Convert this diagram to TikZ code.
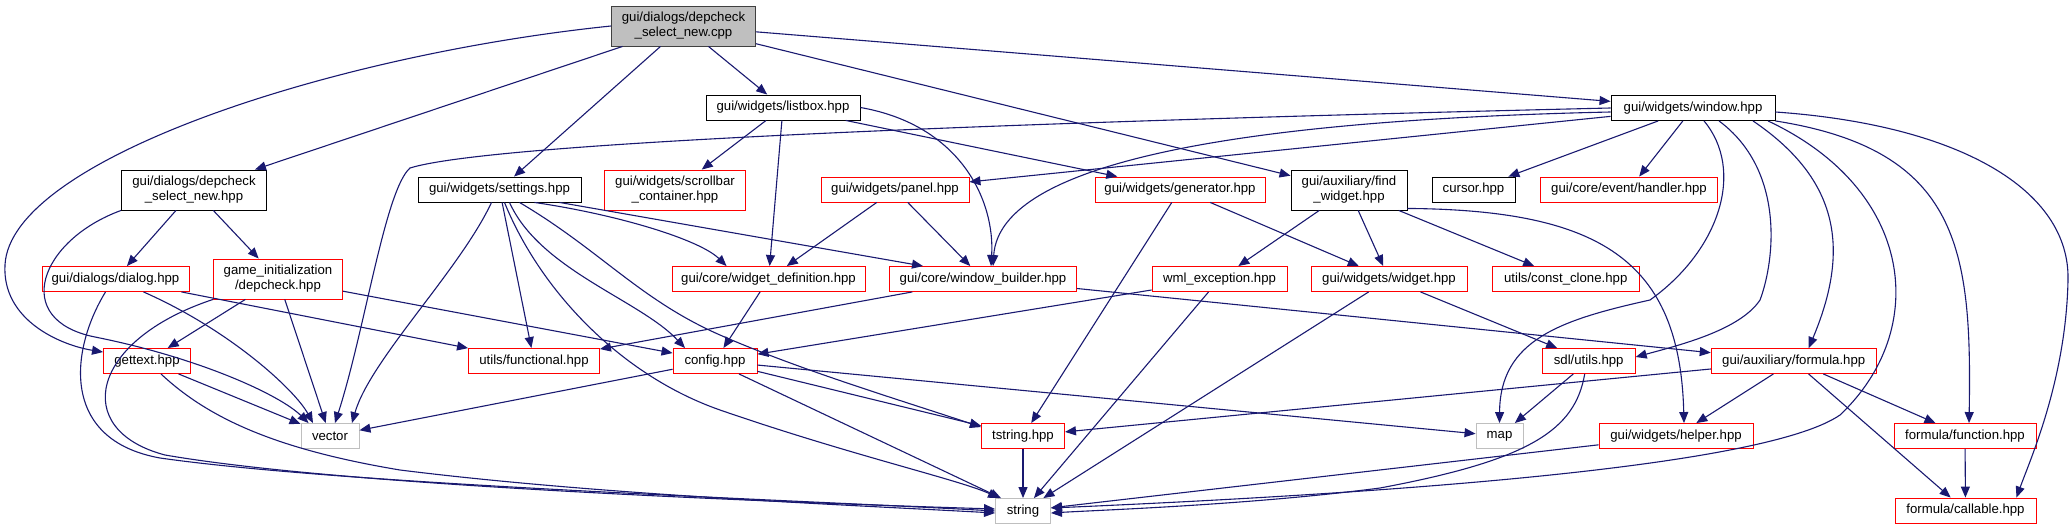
\documentclass[tikz,border=0pt]{standalone}
\usepackage{fontspec}
\setmainfont{Liberation Sans}
\usepackage{tikz}
\usetikzlibrary{arrows.meta}
\definecolor{edgeblue}{RGB}{25,25,112}
\definecolor{rootfill}{RGB}{191,191,191}
\definecolor{rootline}{RGB}{64,64,64}
\definecolor{truncred}{RGB}{255,0,0}
\definecolor{sysgray}{RGB}{191,191,191}
\tikzset{
  % Any file box
  filebox/.style={
    rectangle, draw=black, line width=0.9pt, fill=white,
    minimum height=25pt, inner sep=0pt, align=center,
    font=\fontsize{13.2}{15}\selectfont
  },
  % The file the graph is about
  rootbox/.style={
    filebox, fill=rootfill, draw=rootline, minimum height=40pt
  },
  % Two line box
  tallbox/.style={
    minimum height=40pt
  },
  % File with a truncated graph
  truncbox/.style={
    filebox, draw=truncred
  },
  % System header
  sysbox/.style={
    filebox, draw=sysgray
  },
  % Include arrow
  dep/.style={
    -{Triangle[length=11pt, width=9pt, fill=edgeblue]}, draw=edgeblue,
    line width=1.1pt
  },
}
\begin{document}
\begin{tikzpicture}[x=1pt, y=-1pt]
  \useasboundingbox (0,0) rectangle (2071,529);

  % row 0
  \node[rootbox, minimum width=144pt] (root) at (683.5,26) {gui/dialogs/depcheck\\\_select\_new.cpp};
  % row 1
  \node[filebox, minimum width=154pt] (listbox) at (783,107.5) {gui/widgets/listbox.hpp};
  \node[filebox, minimum width=164pt] (window) at (1693,108) {gui/widgets/window.hpp};
  % row 2
  \node[filebox, tallbox, minimum width=145pt] (dsnhpp) at (194,190) {gui/dialogs/depcheck\\\_select\_new.hpp};
  \node[filebox, minimum width=163pt] (settings) at (499.5,189.5) {gui/widgets/settings.hpp};
  \node[truncbox, tallbox, minimum width=141pt] (scrollbar) at (675,190) {gui/widgets/scrollbar\\\_container.hpp};
  \node[truncbox, minimum width=148pt] (panel) at (895,189.5) {gui/widgets/panel.hpp};
  \node[truncbox, minimum width=170pt] (generator) at (1180,189.5) {gui/widgets/generator.hpp};
  \node[filebox, tallbox, minimum width=116pt] (findwidget) at (1349,190) {gui/auxiliary/find\\\_widget.hpp};
  \node[filebox, minimum width=83pt] (cursor) at (1473.5,189.5) {cursor.hpp};
  \node[truncbox, minimum width=177pt] (handler) at (1629,189.5) {gui/core/event/handler.hpp};
  % row 3
  \node[truncbox, minimum width=147pt] (dialog) at (115.5,279) {gui/dialogs/dialog.hpp};
  \node[truncbox, tallbox, minimum width=129pt] (gameinit) at (278,279) {game\_initialization\\/depcheck.hpp};
  \node[truncbox, minimum width=193pt] (widgetdef) at (768.5,279) {gui/core/widget\_definition.hpp};
  \node[truncbox, minimum width=187pt] (winbuilder) at (983,279) {gui/core/window\_builder.hpp};
  \node[truncbox, minimum width=135pt] (wmlexc) at (1219.5,279) {wml\_exception.hpp};
  \node[truncbox, minimum width=156pt] (widget) at (1389,279) {gui/widgets/widget.hpp};
  \node[truncbox, minimum width=147pt] (constclone) at (1565.7,279) {utils/const\_clone.hpp};
  % row 4
  \node[truncbox, minimum width=87pt] (gettext) at (147,361) {gettext.hpp};
  \node[truncbox, minimum width=131pt] (functional) at (534,361) {utils/functional.hpp};
  \node[truncbox, minimum width=84pt] (config) at (715,361) {config.hpp};
  \node[truncbox, minimum width=93pt] (sdlutils) at (1588.7,361) {sdl/utils.hpp};
  \node[truncbox, minimum width=165pt] (formula) at (1793.7,361) {gui/auxiliary/formula.hpp};
  % row 5
  \node[sysbox, minimum width=58pt] (vector) at (330,436) {vector};
  \node[truncbox, minimum width=83pt] (tstring) at (1023,436) {tstring.hpp};
  \node[sysbox, minimum width=47pt] (map) at (1499.5,436) {map};
  \node[truncbox, minimum width=154pt] (helper) at (1676,436) {gui/widgets/helper.hpp};
  \node[truncbox, minimum width=142pt] (function) at (1965,436) {formula/function.hpp};
  % row 6
  \node[sysbox, minimum width=55pt] (string) at (1023,511) {string};
  \node[truncbox, minimum width=141pt] (callable) at (1965.5,510.5) {formula/callable.hpp};

  % from the cpp file
  \draw[dep] (root.west) .. controls (330,55) and (10,160) .. (5,265)
    .. controls (2,320) and (60,345) .. ([yshift=-4pt]gettext.north west);
  \draw[dep] (root) -- (dsnhpp);
  \draw[dep] (root) -- (settings);
  \draw[dep] (root) -- (listbox);
  \draw[dep] (root) -- (findwidget);
  \draw[dep] (root) -- (window);

  % depcheck_select_new.hpp
  \draw[dep] (dsnhpp) -- (dialog);
  \draw[dep] (dsnhpp) -- (gameinit);
  \draw[dep] (dsnhpp.south west) .. controls (40,240) and (10,320) .. (95,337)
    .. controls (200,358) and (280,395) .. ([xshift=8pt]vector.north west);

  % dialog.hpp
  \draw[dep] (dialog) -- (functional);
  \draw[dep] ([xshift=28pt]dialog.south) .. controls (230,330) and (295,390) .. ([xshift=-17pt]vector.north);
  \draw[dep] ([xshift=-10pt]dialog.south) .. controls (70,350) and (60,440) .. (160,458)
    .. controls (350,485) and (800,500) .. (string.west);

  % game_initialization/depcheck.hpp
  \draw[dep] (gameinit) -- (gettext);
  \draw[dep] (gameinit) -- (vector);
  \draw[dep] (gameinit) -- (config);
  \draw[dep] (gameinit.south west) .. controls (90,340) and (70,430) .. (165,455)
    .. controls (350,487) and (800,503) .. ([yshift=2pt]string.west);

  % gettext.hpp
  \draw[dep] (gettext) -- (vector);
  \draw[dep] ([xshift=14pt]gettext.south) .. controls (210,420) and (280,450) .. (400,470)
    .. controls (600,495) and (850,505) .. ([yshift=-2pt]string.west);

  % settings.hpp
  \draw[dep] ([xshift=-8pt]settings.south) .. controls (460,270) and (370,360) .. ([xshift=22pt]vector.north);
  \draw[dep] (settings) -- (functional);
  \draw[dep] ([xshift=5pt]settings.south) .. controls (540,290) and (620,375) .. (720,410)
    .. controls (850,455) and (960,480) .. ([xshift=4pt]string.north west);
  \draw[dep] ([xshift=10pt]settings.south) .. controls (540,270) and (640,300) .. ([xshift=-30pt]config.north);
  \draw[dep] ([xshift=20pt]settings.south) .. controls (600,250) and (640,300) .. (720,335)
    .. controls (800,370) and (900,400) .. ([yshift=-4pt]tstring.north west);
  \draw[dep] ([xshift=35pt]settings.south) .. controls (620,215) and (700,240) .. ([xshift=55pt]widgetdef.north west);
  \draw[dep] ([xshift=60pt]settings.south) -- ([xshift=-60pt]winbuilder.north);

  % listbox.hpp
  \draw[dep] (listbox) -- (scrollbar);
  \draw[dep] (listbox) -- (widgetdef);
  \draw[dep] (listbox.east) .. controls (960,125) and (995,200) .. ([xshift=8pt]winbuilder.north);
  \draw[dep] (listbox) -- (generator);

  % window.hpp
  \draw[dep] (window.west) .. controls (1100,120) and (500,140) .. (410,168)
    .. controls (385,190) and (365,330) .. ([xshift=5pt]vector.north);
  \draw[dep] (window) -- (panel);
  \draw[dep] ([yshift=-4pt]window.west) .. controls (1250,120) and (1000,160) .. ([xshift=10pt]winbuilder.north);
  \draw[dep] (window) -- (cursor);
  \draw[dep] (window) -- (handler);
  \draw[dep] ([xshift=11pt]window.south) .. controls (1745,170) and (1720,250) .. (1650,300)
    .. controls (1560,320) and (1500,340) .. (map.north);
  \draw[dep] ([xshift=26pt]window.south) .. controls (1785,170) and (1775,260) .. (1760,300)
    .. controls (1740,330) and (1680,345) .. ([yshift=4pt]sdlutils.east);
  \draw[dep] ([xshift=60pt]window.south) .. controls (1840,180) and (1850,250) .. ([xshift=15pt]formula.north);
  \draw[dep] ([xshift=75pt]window.south) .. controls (1915,190) and (1930,330) .. (1840,415)
    .. controls (1760,470) and (1350,495) .. ([yshift=3pt]string.east);
  \draw[dep] (window.south east) .. controls (1960,150) and (1972,250) .. ([xshift=4pt]function.north);
  \draw[dep] ([yshift=-4pt]window.east) .. controls (1960,125) and (2070,190) .. (2068,280)
    .. controls (2066,380) and (2030,460) .. ([xshift=-20pt]callable.north east);

  % find_widget.hpp
  \draw[dep] (findwidget) -- (wmlexc);
  \draw[dep] (findwidget) -- (widget);
  \draw[dep] (findwidget) -- (constclone);
  \draw[dep] ([yshift=2pt]findwidget.south east) .. controls (1600,210) and (1680,260) .. ([xshift=8pt]helper.north);

  % panel.hpp and generator.hpp
  \draw[dep] (panel) -- (widgetdef);
  \draw[dep] (panel) -- (winbuilder);
  \draw[dep] (generator) -- (tstring);
  \draw[dep] (generator) -- (widget);

  % row 3 files
  \draw[dep] (widgetdef) -- (config);
  \draw[dep] (winbuilder) -- (functional);
  \draw[dep] (winbuilder) -- (formula);
  \draw[dep] (wmlexc) -- (config);
  \draw[dep] (wmlexc) -- (string);
  \draw[dep] (widget) -- (string);
  \draw[dep] (widget) -- (sdlutils);

  % row 4 files
  \draw[dep] (config) -- (vector);
  \draw[dep] (config) -- (tstring);
  \draw[dep] ([xshift=24pt]config.south) -- ([xshift=-22pt]string.north);
  \draw[dep] (config) -- (map);
  \draw[dep] (sdlutils) -- (map);
  \draw[dep] ([xshift=-4pt]sdlutils.south) .. controls (1575,430) and (1530,460) .. (1380,488)
    .. controls (1250,505) and (1100,510) .. ([yshift=-2pt]string.east);
  \draw[dep] (formula) -- (tstring);
  \draw[dep] (formula) -- (helper);
  \draw[dep] (formula) -- (function);
  \draw[dep] (formula) -- (callable);

  % row 5 files
  \draw[dep] (tstring) -- (string);
  \draw[dep] (helper) -- (string);
  \draw[dep] (function) -- (callable);
\end{tikzpicture}
\end{document}
